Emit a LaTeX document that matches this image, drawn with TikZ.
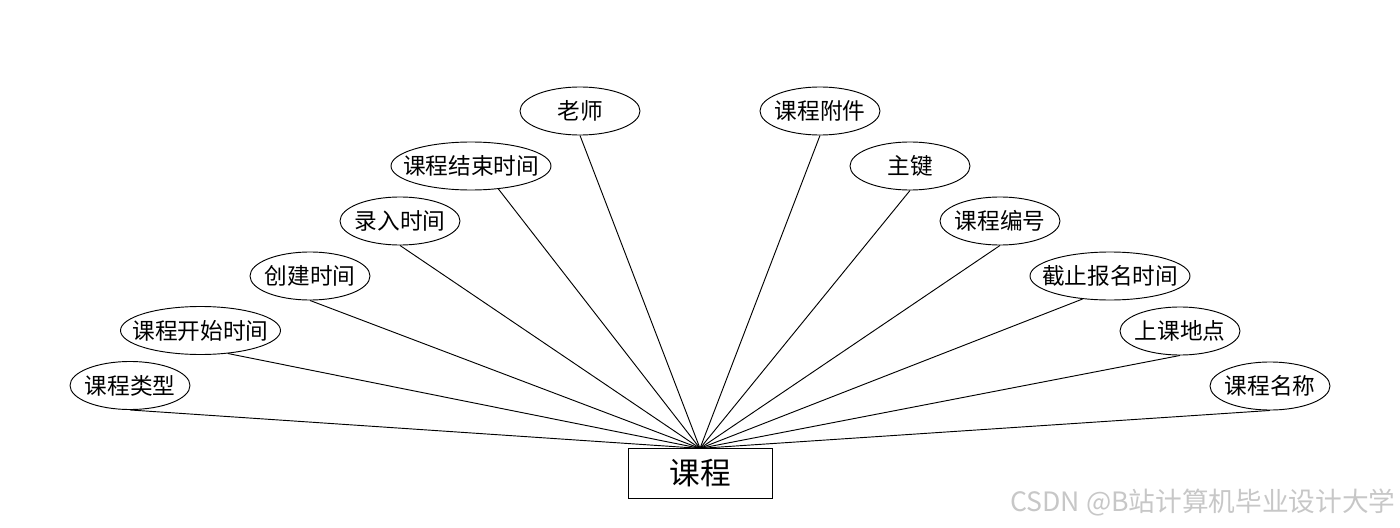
\documentclass[tikz,border=0pt]{standalone}
\usepackage{fontspec}
\setmainfont{Noto Sans CJK SC}
\usepackage{tikz}
\usetikzlibrary{shapes.geometric}
\tikzset{
  attr/.style={ellipse, draw, inner xsep=-16pt, inner ysep=0pt, minimum width=90pt, minimum height=36pt, font=\fontsize{17}{19}\selectfont},
  attrwide/.style={attr, minimum width=120pt},
  entity/.style={rectangle, draw, inner sep=0pt, minimum width=108pt, minimum height=37pt, font=\fontsize{23}{26}\selectfont},
}

\begin{document}
\begin{tikzpicture}[x=0.75pt, y=-0.75pt, line width=0.7pt]
        \useasboundingbox (0,0) rectangle (1400,528);
        % Nodes
        \node[entity] (K) at (700, 473.5) {课程};

        \node[attr] (lx) at (130, 385.5) {课程类型};
        \node[attrwide] (ks) at (200.5, 330.5) {课程开始时间};
        \node[attr] (cj) at (310, 276) {创建时间};
        \node[attr] (lr) at (400, 221) {录入时间};
        \node[attrwide] (js) at (471, 166) {课程结束时间};
        \node[attr] (ls) at (580, 111) {老师};

        \node[attr] (fj) at (820, 111) {课程附件};
        \node[attr] (zj) at (910, 166) {主键};
        \node[attr] (bh) at (1000, 221) {课程编号};
        \node[attrwide] (jz) at (1110, 276) {截止报名时间};
        \node[attr] (dd) at (1180, 331) {上课地点};
        \node[attr] (mc) at (1270, 386) {课程名称};

        % Undirected edges
        \foreach \a in {lx, cj, lr, ls, fj, zj, bh, dd, mc}
            \draw (\a.south) -- (K.north);
        \draw (ks.320) -- (K.north);
        \draw (js.320) -- (K.north);
        \draw (jz.220) -- (K.north);

        % Watermark
        \node[text=black!22, font=\fontsize{20}{22}\selectfont, anchor=east, inner sep=0pt] (wm) at (1396, 502) {CSDN @B站计算机毕业设计大学};
    \end{tikzpicture}
\end{document}
